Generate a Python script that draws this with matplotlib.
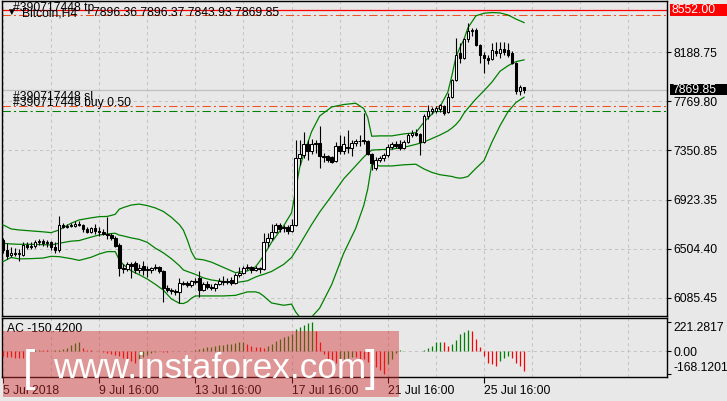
import matplotlib
matplotlib.use("Agg")
import matplotlib.pyplot as plt
import matplotlib.transforms as mtransforms
from matplotlib.patches import Rectangle
import numpy as np

plt.rcParams['font.family'] = ['Liberation Sans', 'DejaVu Sans']

W, H = 727, 401
BG = '#e8e8e8'
GRID = '#c4c4c4'
FS = 8.7

# Bitcoin H4 candles, one per 4 hours from 5 Jul 2018 16:00
opens = [6580, 6490, 6450, 6470, 6460, 6450, 6540, 6520, 6530, 6560,
         6570, 6550, 6560, 6520, 6490, 6710, 6690, 6700, 6700, 6720,
         6710, 6670, 6650, 6680, 6660, 6650, 6630, 6620, 6600, 6540,
         6340, 6330, 6370, 6380, 6320, 6360, 6320, 6320, 6340, 6350,
         6310, 6170, 6150, 6140, 6137, 6210, 6210, 6190, 6230, 6250,
         6150, 6200, 6180, 6170, 6200, 6230, 6220, 6240, 6210, 6280,
         6300, 6340, 6350, 6320, 6340, 6330, 6560, 6600, 6650, 6710,
         6680, 6690, 6660, 6710, 7280, 7310, 7400, 7340, 7400, 7410,
         7300, 7300, 7290, 7260, 7390, 7340, 7380, 7370, 7410, 7430,
         7435, 7430, 7320, 7200, 7270, 7280, 7310, 7380, 7400, 7400,
         7370, 7420, 7480, 7500, 7490, 7420, 7640, 7690, 7690, 7700,
         7730, 7680, 7810, 7950, 8180, 8140, 8300, 8370, 8380, 8250,
         8170, 8140, 8130, 8200, 8185, 8215, 8210, 8180, 8100, 7860,
         7896.36]
highs = [6600, 6550, 6520, 6510, 6500, 6560, 6560, 6560, 6580, 6590,
         6590, 6580, 6570, 6560, 6790, 6730, 6720, 6730, 6740, 6740,
         6720, 6690, 6690, 6720, 6690, 6670, 6780, 6640, 6610, 6550,
         6370, 6390, 6390, 6400, 6370, 6400, 6360, 6350, 6370, 6360,
         6320, 6190, 6170, 6160, 6252, 6230, 6230, 6240, 6250, 6310,
         6220, 6230, 6200, 6210, 6250, 6270, 6250, 6260, 6300, 6350,
         6360, 6370, 6360, 6360, 6350, 6640, 6640, 6720, 6730, 6730,
         6710, 6710, 6760, 7440, 7440, 7510, 7440, 7450, 7440, 7560,
         7330, 7310, 7300, 7420, 7480, 7470, 7520, 7440, 7450, 7480,
         7670, 7440, 7330, 7290, 7300, 7330, 7400, 7420, 7430, 7440,
         7440, 7500, 7520, 7530, 7500, 7660, 7740, 7720, 7730, 7745,
         7740, 7840, 7960, 8310, 8270, 8310, 8440, 8400, 8400, 8260,
         8190, 8170, 8270, 8280, 8275, 8280, 8270, 8200, 8110, 7910,
         7896.37]
lows = [6470, 6420, 6430, 6440, 6400, 6440, 6500, 6500, 6510, 6540,
        6530, 6520, 6490, 6470, 6480, 6680, 6680, 6690, 6690, 6700,
        6650, 6640, 6640, 6630, 6610, 6620, 6590, 6580, 6520, 6270,
        6300, 6310, 6250, 6300, 6300, 6280, 6260, 6300, 6320, 6300,
        6050, 6130, 6120, 6110, 6037, 6190, 6180, 6180, 6200, 6090,
        6140, 6160, 6150, 6140, 6190, 6190, 6200, 6190, 6200, 6260,
        6290, 6320, 6300, 6310, 6300, 6320, 6520, 6580, 6640, 6650,
        6650, 6630, 6650, 6700, 7220, 7280, 7270, 7320, 7330, 7200,
        7250, 7250, 7240, 7250, 7320, 7320, 7330, 7300, 7390, 7390,
        7400, 7310, 7180, 7180, 7250, 7260, 7290, 7360, 7370, 7350,
        7360, 7410, 7460, 7470, 7310, 7410, 7620, 7660, 7670, 7680,
        7650, 7670, 7800, 7940, 8100, 8130, 8280, 8330, 8240, 8100,
        8010, 8090, 8120, 8160, 8140, 8170, 8150, 8090, 7830, 7825,
        7843.93]
closes = [6490, 6440, 6470, 6460, 6470, 6540, 6520, 6530, 6560, 6570,
          6550, 6560, 6520, 6490, 6710, 6690, 6700, 6710, 6720, 6710,
          6670, 6650, 6680, 6660, 6650, 6630, 6620, 6600, 6530, 6340,
          6330, 6370, 6360, 6320, 6340, 6320, 6330, 6340, 6350, 6310,
          6170, 6150, 6140, 6130, 6209, 6200, 6190, 6230, 6220, 6150,
          6200, 6180, 6170, 6200, 6230, 6220, 6230, 6210, 6280, 6300,
          6340, 6350, 6320, 6340, 6330, 6560, 6600, 6650, 6710, 6670,
          6690, 6660, 6710, 7280, 7320, 7400, 7340, 7400, 7410, 7300,
          7290, 7270, 7250, 7390, 7340, 7400, 7370, 7410, 7430, 7430,
          7425, 7320, 7240, 7270, 7280, 7310, 7380, 7400, 7390, 7370,
          7420, 7480, 7500, 7480, 7420, 7640, 7690, 7700, 7710, 7740,
          7670, 7810, 7950, 8170, 8140, 8300, 8370, 8380, 8250, 8170,
          8140, 8120, 8210, 8185, 8215, 8195, 8170, 8100, 7860, 7895,
          7869.85]

# Bollinger bands (20, 2) at these bars
band_idx = [0, 2, 4, 7, 10, 12, 14, 17, 19, 22, 24, 26, 28, 29, 30, 32, 34, 36,
            38, 40, 42, 44, 45, 46, 47, 48, 50, 52, 55, 58, 61, 63, 64, 65, 67,
            70, 72, 73, 74, 75, 77, 79, 82, 85, 88, 90, 91, 92, 94, 97, 100,
            103, 105, 107, 109, 111, 112, 113, 114, 115, 116, 118, 120, 122,
            124, 126, 128, 130]
band_upper = [6710, 6675, 6666, 6658, 6650, 6643, 6666, 6724, 6752, 6770, 6780,
              6782, 6800, 6844, 6858, 6880, 6888, 6875, 6855, 6825, 6775, 6712,
              6665, 6580, 6480, 6418, 6410, 6390, 6345, 6300, 6315, 6350, 6395,
              6445, 6560, 6700, 6814, 7004, 7200, 7310, 7510, 7643, 7721, 7742,
              7753, 7708, 7632, 7470, 7473, 7473, 7490, 7500, 7590, 7660, 7720,
              7850, 7990, 8150, 8230, 8300, 8400, 8503, 8525, 8531, 8528, 8510,
              8475, 8445]
band_mid = [6552, 6546, 6543, 6543, 6540, 6537, 6552, 6570, 6575, 6605, 6623,
            6632, 6638, 6622, 6615, 6598, 6585, 6560, 6510, 6470, 6420, 6360,
            6323, 6310, 6298, 6285, 6255, 6237, 6223, 6214, 6230, 6262, 6275,
            6285, 6310, 6370, 6430, 6484, 6538, 6597, 6712, 6819, 6959, 7104,
            7216, 7291, 7324, 7351, 7355, 7359, 7375, 7400, 7420, 7450, 7480,
            7515, 7540, 7570, 7610, 7667, 7710, 7790, 7860, 7935, 8027, 8075,
            8110, 8125]
band_lower = [6394, 6430, 6418, 6420, 6425, 6440, 6437, 6420, 6405, 6432, 6460,
              6480, 6480, 6410, 6370, 6315, 6282, 6245, 6200, 6150, 6075, 6037,
              6035, 6050, 6080, 6100, 6100, 6100, 6100, 6105, 6135, 6135, 6125,
              6100, 6040, 6020, 6030, 5964, 5920, 5891, 5919, 5995, 6197, 6466,
              6680, 6875, 7017, 7230, 7215, 7215, 7225, 7230, 7190, 7160, 7140,
              7130, 7125, 7115, 7110, 7115, 7125, 7195, 7260, 7420, 7560, 7680,
              7760, 7805]

# Accelerator Oscillator
ac_values = [-35, -40, -45, -47, -50, -52, -30, 8, 10, 12,
             10, 8, 5, 8, 15, 22, 30, 48, 62, 70,
             30, 15, 8, 5, 3, -5, -12, -18, -25, -35,
             -50, -62, -75, -85, -60, -40, -25, -12, -5, 3,
             -3, -5, 3, 5, 3, 5, 2, 6, 15, 22,
             28, 32, 38, 45, 48, 50, 55, 60, 66, 70,
             74, 55, 45, 38, 32, 28, 40, 60, 80, 95,
             108, 120, 135, 170, 190, 205, 214, 221.28, 160, 70,
             -20, -60, -80, -90, -75, -60, -50, -40, -45, -55,
             -60, -80, -100, -120, -140, -168.12, -98, -59, -13, 8,
             6, 4, 3, 2, 4, 10, 23, 44, 69, 75,
             69, 44, 56, 90, 134, 152, 167, 160, 95, 38,
             -35, -85, -98, -110, -72, -46, -33, -46, -85, -110,
             -150.42]

price_ticks = [8188.75, 7769.80, 7350.85, 6923.35, 6504.40, 6085.45]
ac_ticks = [221.2817, 0.0, -168.1201]
date_ticks = [0, 24, 48, 72, 96, 120]
date_labels = ["5 Jul 2018", "9 Jul 16:00", "13 Jul 16:00", "17 Jul 16:00",
               "21 Jul 16:00", "25 Jul 16:00"]

alert_level = 8552.00
tp_level = 8511
sl_level = 7733
buy_level = 7690


def fx(x):
    return x / W


def fy(y):
    return 1 - y / H


fig = plt.figure(figsize=(W / 100, H / 100), dpi=100, facecolor=BG)
ax = fig.add_axes([fx(2), fy(316), 665 / W, 315 / H], facecolor=BG)
ax2 = fig.add_axes([fx(2), fy(377), 665 / W, 59 / H], facecolor=BG)

idx = np.arange(len(closes))
o = np.array(opens)
c = np.array(closes)
up = c >= o

# price window
ax.set_xlim(-0.25, 165.67)
ax.set_ylim(5928, 8630)
ax.set_xticks(np.arange(0, 166, 12))
ax.tick_params(axis='x', length=0, labelbottom=False)
ax.grid(True, color=GRID, ls=(0, (3, 3)), lw=0.75)
ax.set_axisbelow(True)

ax.axhline(alert_level, color='#ff0000', lw=0.9, zorder=2)
ax.axhline(tp_level, color='#f05020', lw=0.75, ls=(0, (8, 3, 2, 3)), zorder=2)
ax.axhline(sl_level, color='#f05020', lw=0.75, ls=(0, (8, 3, 2, 3)), zorder=2)
ax.axhline(buy_level, color='#008000', lw=0.75, ls=(0, (8, 3, 2, 3)), zorder=2)
ax.axhline(closes[-1], color='#c0c0c0', lw=0.9, zorder=1.5)

ax.plot(band_idx, band_upper, color='#008000', lw=0.9, zorder=3)
ax.plot(band_idx, band_mid, color='#008000', lw=0.9, zorder=3)
ax.plot(band_idx, band_lower, color='#008000', lw=0.9, zorder=3)

ax.vlines(idx, lows, highs, color='black', lw=0.8, zorder=4)
ax.bar(idx, np.maximum(np.abs(c - o), 3), bottom=np.minimum(o, c), width=0.65,
       color=np.where(up, 'white', 'black'), edgecolor='black', lw=0.75, zorder=5)

ax.yaxis.tick_right()
ax.set_yticks(price_ticks)
ax.set_yticklabels([f"{v:.2f}" for v in price_ticks])
ax.tick_params(axis='y', length=3, width=0.8, pad=1.5, labelsize=FS)
for s in ax.spines.values():
    s.set_linewidth(1.0)

tr = mtransforms.blended_transform_factory(fig.transFigure, ax.transData)
for level, face in [(alert_level, '#ff0000'), (closes[-1], '#000000')]:
    ax.add_patch(Rectangle((fx(670), level - 50), fx(727) - fx(670), 100, transform=tr,
                           facecolor=face, edgecolor='none', clip_on=False, zorder=6))
    ax.text(fx(672), level, f"{level:.2f}", transform=tr, color='white', va='center',
            ha='left', fontsize=FS, zorder=7, clip_on=False)

# oscillator window
ax2.set_xlim(-0.25, 165.67)
ax2.set_ylim(-194.8, 255.6)
ac_colors = ['#ff0000'] + ['#008000' if ac_values[i] > ac_values[i - 1] else '#ff0000'
                           for i in range(1, len(ac_values))]
ax2.vlines(idx, 0, ac_values, colors=ac_colors, lw=0.9, zorder=3)
ax2.axhline(0, color=GRID, ls=(0, (3, 3)), lw=0.75, zorder=1)
ax2.set_xticks(date_ticks)
ax2.set_xticklabels(date_labels)
ax2.set_xticks(np.arange(0, 166, 12), minor=True)
ax2.tick_params(axis='x', which='major', length=4, width=0.8, pad=2, labelsize=FS)
ax2.tick_params(axis='x', which='minor', length=0)
for lab in ax2.get_xticklabels():
    lab.set_ha('left')
ax2.grid(True, axis='x', which='both', color=GRID, ls=(0, (3, 3)), lw=0.75)
ax2.set_axisbelow(True)
ax2.yaxis.tick_right()
ax2.set_yticks(ac_ticks)
ax2.set_yticklabels(["221.2817", "0.00", "-168.1201"])
ax2.tick_params(axis='y', length=3, width=0.8, pad=1.5, labelsize=FS)
ylabs = ax2.get_yticklabels()
ylabs[0].set_va('top')
ylabs[2].set_va('bottom')
for s in ax2.spines.values():
    s.set_linewidth(1.0)

# header and order labels
fig.text(fx(6), fy(12), "\u25bc", fontsize=7, va='center', ha='left')
fig.text(fx(22), fy(13), "Bitcoin,H4", fontsize=FS, va='center')
fig.text(fx(93), fy(13), "7896.36 7896.37 7843.93 7869.85", fontsize=FS, va='center')
fig.text(fx(13), fy(7.5), "#390717448 tp", fontsize=FS, va='center')
fig.text(fx(13), fy(97.5), "#390717448 sl", fontsize=FS, va='center')
fig.text(fx(13), fy(103), "#390717448 buy 0.50", fontsize=FS, va='center')
fig.text(fx(7), fy(329), "AC -150.4200", fontsize=FS, va='center')

# watermark
fig.add_artist(Rectangle((fx(3), fy(397)), 396 / W, 66 / H, transform=fig.transFigure,
                         facecolor=(0.84, 0.2, 0.2), alpha=0.45, edgecolor='none', zorder=10))
wm = dict(color='white', va='center', zorder=11, family='Liberation Sans')
fig.text(fx(23), fy(369), "[", ha='left', fontsize=32, **wm)
fig.text(fx(53), fy(369), "www.instaforex.com", ha='left', fontsize=25.3, **wm)
fig.text(fx(365), fy(369), "]", ha='left', fontsize=32, **wm)

fig.savefig("out.png", dpi=100, facecolor=BG)
